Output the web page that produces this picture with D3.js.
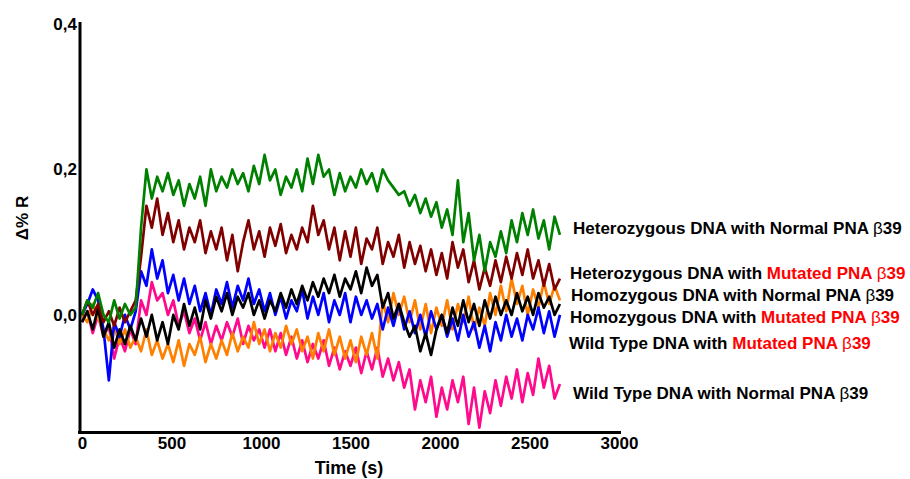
<!DOCTYPE html>
<html>
<head>
<meta charset="utf-8">
<script src="https://d3js.org/d3.v7.min.js"></script>
<style>
body { margin: 0; background: #fff; }
text { font-family: "Liberation Sans", Arial, sans-serif; font-weight: bold; }
.axis path { stroke: #000; stroke-width: 3px; }
.axis text { font-size: 17px; fill: #000; }
.series { fill: none; stroke-width: 2.7px; stroke-linejoin: round; }
</style>
</head>
<body>
<script>

// sampling: one reading every 30 s, from 0 to 2670 s
var step = 30;
var times = d3.range(0, 2700, step);

var xTicks = [0, 500, 1000, 1500, 2000, 2500, 3000];
var yTicks = [0.0, 0.2, 0.4];

var hetNormal = [0.0, 0.02, 0.01, 0.03, 0.0, -0.01, 0.02, -0.005, 0.015, 0.0, 0.01, 0.12, 0.2, 0.16, 0.19, 0.17, 0.195, 0.165, 0.185, 0.15,
  0.18, 0.16, 0.19, 0.15, 0.2, 0.17, 0.19, 0.175, 0.2, 0.18, 0.195, 0.17, 0.205, 0.18, 0.22, 0.185, 0.2, 0.165, 0.19, 0.175,
  0.2, 0.17, 0.215, 0.18, 0.22, 0.19, 0.2, 0.165, 0.195, 0.17, 0.19, 0.175, 0.2, 0.18, 0.195, 0.17, 0.2, 0.185, 0.175, 0.165,
  0.17, 0.15, 0.165, 0.14, 0.16, 0.135, 0.155, 0.12, 0.145, 0.11, 0.185, 0.1, 0.14, 0.075, 0.11, 0.06, 0.1, 0.08, 0.115, 0.085,
  0.13, 0.1, 0.14, 0.11, 0.145, 0.105, 0.13, 0.09, 0.135, 0.11];

var hetMutated = [0.0, 0.02, 0.0, 0.015, -0.01, 0.005, -0.015, 0.01, -0.01, 0.005, 0.02, 0.08, 0.15, 0.12, 0.16, 0.11, 0.14, 0.1, 0.13, 0.09,
  0.12, 0.1, 0.13, 0.085, 0.115, 0.09, 0.12, 0.075, 0.11, 0.06, 0.1, 0.13, 0.09, 0.115, 0.08, 0.12, 0.095, 0.125, 0.085, 0.11,
  0.09, 0.12, 0.1, 0.15, 0.11, 0.13, 0.09, 0.12, 0.075, 0.115, 0.08, 0.12, 0.07, 0.105, 0.09, 0.12, 0.07, 0.1, 0.08, 0.11,
  0.065, 0.1, 0.07, 0.095, 0.06, 0.09, 0.055, 0.085, 0.05, 0.1, 0.065, 0.09, 0.045, 0.075, 0.035, 0.065, 0.04, 0.075, 0.045, 0.08,
  0.05, 0.085, 0.055, 0.09, 0.05, 0.075, 0.04, 0.07, 0.035, 0.05];

var homNormal = [-0.01, 0.005, -0.02, 0.01, -0.03, -0.01, -0.045, -0.02, -0.04, -0.015, -0.035, -0.005, -0.03, 0.0, -0.035, -0.01, -0.04, 0.0, -0.02, 0.015,
  -0.015, 0.01, -0.02, 0.02, -0.005, 0.025, 0.005, 0.03, 0.0, 0.025, 0.01, 0.03, 0.0, 0.02, -0.005, 0.02, 0.005, 0.03, 0.01, 0.035,
  0.015, 0.04, 0.02, 0.045, 0.025, 0.05, 0.03, 0.055, 0.025, 0.05, 0.035, 0.06, 0.03, 0.065, 0.04, 0.055, 0.01, 0.03, -0.005, 0.015,
  -0.01, -0.03, -0.015, -0.05, -0.025, -0.055, -0.02, 0.0, -0.025, 0.01, -0.015, 0.02, -0.01, 0.015, -0.015, 0.02, -0.005, 0.025, 0.0, 0.02,
  0.0, 0.03, 0.005, 0.025, 0.0, 0.03, 0.01, 0.025, 0.0, 0.015];

var homMutated = [0.0, 0.015, 0.035, 0.02, -0.02, -0.09, -0.01, -0.03, 0.0, -0.02, 0.005, 0.06, 0.04, 0.09, 0.05, 0.075, 0.03, 0.055, 0.02, 0.05,
  0.015, 0.04, 0.005, 0.03, 0.0, 0.035, 0.015, 0.045, 0.01, 0.04, 0.02, 0.05, 0.015, 0.035, 0.005, 0.03, 0.0, 0.025, -0.005, 0.02,
  0.005, 0.035, -0.005, 0.025, 0.0, 0.03, -0.01, 0.02, 0.0, 0.03, -0.01, 0.025, 0.0, 0.02, -0.005, 0.015, -0.02, 0.01, -0.015, 0.015,
  -0.02, 0.005, -0.025, 0.0, -0.03, 0.005, -0.02, 0.0, -0.03, -0.005, -0.035, 0.0, -0.03, -0.01, -0.045, -0.015, -0.05, -0.01, -0.035, 0.0,
  -0.03, -0.005, -0.035, 0.0, -0.02, 0.01, -0.025, 0.005, -0.03, 0.0];

var wildMutated = [0.0, -0.01, 0.015, -0.005, -0.02, -0.035, -0.015, -0.04, -0.02, -0.045, -0.03, -0.05, -0.02, -0.055, -0.035, -0.06, -0.04, -0.065, -0.035, -0.07,
  -0.04, -0.055, -0.03, -0.065, -0.04, -0.06, -0.035, -0.055, -0.025, -0.05, -0.03, -0.045, -0.01, -0.04, -0.02, -0.05, -0.025, -0.045, -0.015, -0.04,
  -0.02, -0.05, -0.03, -0.06, -0.025, -0.05, -0.02, -0.055, -0.03, -0.06, -0.035, -0.065, -0.03, -0.055, -0.025, -0.06, 0.02, -0.01, 0.03, 0.0,
  0.025, -0.01, 0.02, -0.02, 0.015, -0.025, 0.01, -0.015, 0.02, -0.02, 0.015, -0.01, 0.025, -0.02, 0.01, -0.015, 0.03, 0.0, 0.04, 0.005,
  0.05, 0.015, 0.04, 0.0, 0.035, 0.01, 0.045, 0.015, 0.04, 0.02];

var wildNormal = [-0.01, 0.005, -0.025, 0.0, -0.03, -0.015, -0.06, -0.03, -0.05, -0.02, -0.04, 0.02, 0.0, 0.045, 0.02, 0.03, 0.0, 0.02, -0.015, 0.005,
  -0.025, -0.005, -0.035, -0.01, -0.04, -0.015, -0.035, -0.01, -0.03, -0.005, -0.04, -0.015, -0.035, -0.02, -0.045, -0.02, -0.05, -0.025, -0.055, -0.03,
  -0.06, -0.035, -0.065, -0.04, -0.06, -0.035, -0.07, -0.045, -0.075, -0.05, -0.07, -0.045, -0.08, -0.05, -0.075, -0.045, -0.085, -0.06, -0.09, -0.065,
  -0.1, -0.075, -0.13, -0.09, -0.12, -0.085, -0.14, -0.1, -0.13, -0.09, -0.12, -0.085, -0.15, -0.1, -0.155, -0.105, -0.135, -0.09, -0.125, -0.085,
  -0.115, -0.075, -0.12, -0.08, -0.11, -0.06, -0.1, -0.07, -0.115, -0.095];

// drawing order: bottom first
var series = [
  {values: wildNormal, color: "#ff0a8c"},
  {values: wildMutated, color: "#ff8000"},
  {values: homMutated, color: "#0000ff"},
  {values: homNormal, color: "#000000"},
  {values: hetMutated, color: "#800000"},
  {values: hetNormal, color: "#008000"}
];

var labels = [
  {parts: [["Heterozygous DNA with Normal PNA ", "#000"]], y: 234, x: 573},
  {parts: [["Heterozygous DNA with ", "#000"], ["Mutated PNA ", "#ff0000"]], y: 279, x: 570, beta: "#ff0000"},
  {parts: [["Homozygous DNA with Normal PNA ", "#000"]], y: 301, x: 571},
  {parts: [["Homozygous DNA with ", "#000"], ["Mutated PNA ", "#ff0000"]], y: 323, x: 570, beta: "#ff0000"},
  {parts: [["Wild Type DNA with ", "#000"], ["Mutated PNA ", "#ff0000"]], y: 349, x: 569, beta: "#ff0000"},
  {parts: [["Wild Type DNA with Normal PNA ", "#000"]], y: 399, x: 573}
];

var width = 910, height = 479;

var svg = d3.select("body").append("svg")
  .attr("width", width)
  .attr("height", height);

var x = d3.scaleLinear().domain([0, 3000]).range([82, 619]);
var y = d3.scaleLinear().domain([-0.161, 0.4]).range([432, 24]);

var line = d3.line()
  .x(function(d, i) { return x(times[i]); })
  .y(function(d) { return y(d); });

svg.selectAll(".series")
  .data(series)
  .enter().append("path")
  .attr("class", "series")
  .attr("stroke", function(d) { return d.color; })
  .attr("d", function(d) { return line(d.values); });

var comma = function(d) { return d3.format(".1f")(d).replace(".", ","); };

svg.append("g")
  .attr("class", "axis")
  .attr("transform", "translate(0,432)")
  .call(d3.axisBottom(x).tickValues(xTicks).tickFormat(d3.format("d")).tickSize(0).tickPadding(5).tickSizeOuter(0))
  .call(function(g) { g.select(".domain").attr("d", "M78,0.5H621"); });

svg.append("g")
  .attr("class", "axis")
  .attr("transform", "translate(80,0)")
  .call(d3.axisLeft(y).tickValues(yTicks).tickFormat(comma).tickSize(0).tickPadding(3).tickSizeOuter(0))
  .call(function(g) { g.select(".domain").attr("d", "M0,22V433"); });

svg.append("text")
  .attr("x", 349)
  .attr("y", 474)
  .attr("text-anchor", "middle")
  .style("font-size", "18px")
  .text("Time (s)");

svg.append("text")
  .attr("transform", "translate(28,218) rotate(-90)")
  .attr("text-anchor", "middle")
  .style("font-size", "17px")
  .text("\u0394% R");

var lab = svg.selectAll(".lab")
  .data(labels)
  .enter().append("text")
  .attr("class", "lab")
  .attr("x", function(d) { return d.x; })
  .attr("y", function(d) { return d.y; })
  .style("font-size", "17px");

lab.each(function(d) {
  var t = d3.select(this);
  d.parts.forEach(function(p) {
    t.append("tspan").attr("fill", p[1]).text(p[0]);
  });
  t.append("tspan").attr("fill", d.beta || "#000").style("font-weight", "normal").text("\u03b2");
  t.append("tspan").attr("fill", d.beta || "#000").text("39");
});

</script>
</body>
</html>
